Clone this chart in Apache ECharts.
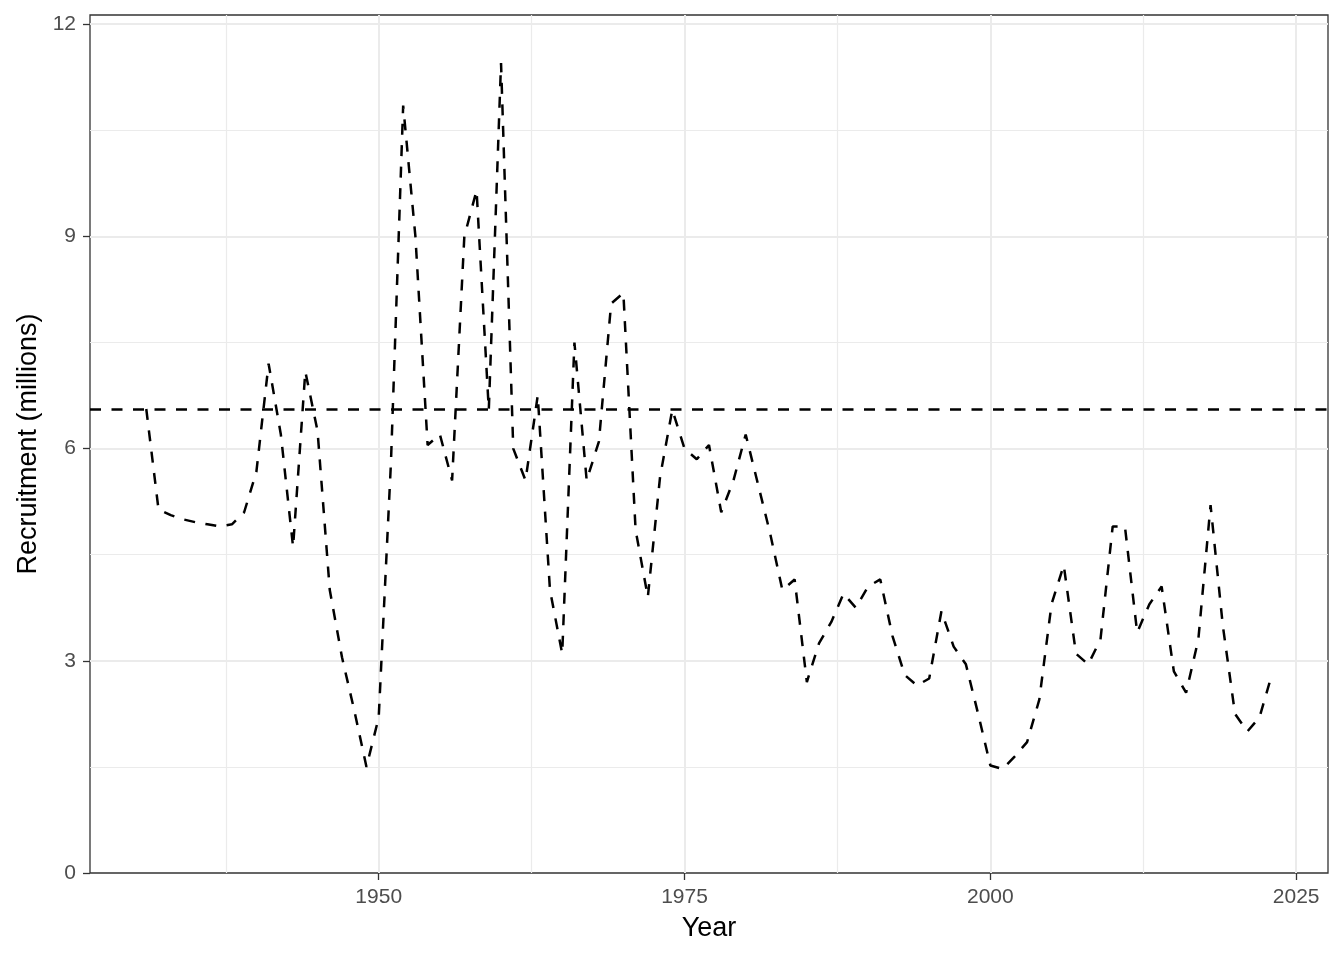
<!DOCTYPE html>
<html>
<head>
<meta charset="utf-8">
<title>Recruitment</title>
<script src="https://cdn.jsdelivr.net/npm/echarts@6.0.0/dist/echarts.min.js"></script>
<style>
  html, body { margin: 0; padding: 0; background: #ffffff; }
  #chart { width: 1344px; height: 960px; }
</style>
</head>
<body>
<div id="chart"></div>
<script>
// years of the series
var years = [
  1931, 1932, 1933, 1934, 1935, 1936, 1937, 1938, 1939, 1940,
  1941, 1942, 1943, 1944, 1945, 1946, 1947, 1948, 1949, 1950,
  1951, 1952, 1953, 1954, 1955, 1956, 1957, 1958, 1959, 1960,
  1961, 1962, 1963, 1964, 1965, 1966, 1967, 1968, 1969, 1970,
  1971, 1972, 1973, 1974, 1975, 1976, 1977, 1978, 1979, 1980,
  1981, 1982, 1983, 1984, 1985, 1986, 1987, 1988, 1989, 1990,
  1991, 1992, 1993, 1994, 1995, 1996, 1997, 1998, 1999, 2000,
  2001, 2002, 2003, 2004, 2005, 2006, 2007, 2008, 2009, 2010,
  2011, 2012, 2013, 2014, 2015, 2016, 2017, 2018, 2019, 2020,
  2021, 2022, 2023
];

// recruitment, millions
var recruitment = [
  6.56, 5.14, 5.06, 5.00, 4.96, 4.93, 4.90, 4.93, 5.10, 5.67,
  7.20, 6.20, 4.61, 7.09, 6.25, 4.00, 3.05, 2.30, 1.50, 2.20,
  5.80, 10.85, 9.00, 6.05, 6.20, 5.55, 9.00, 9.65, 6.55, 11.45,
  6.00, 5.55, 6.75, 4.00, 3.10, 7.50, 5.55, 6.10, 8.05, 8.20,
  4.85, 3.90, 5.60, 6.55, 6.00, 5.85, 6.05, 5.10, 5.55, 6.20,
  5.50, 4.80, 4.00, 4.15, 2.70, 3.25, 3.55, 3.95, 3.75, 4.05,
  4.15, 3.35, 2.80, 2.65, 2.75, 3.70, 3.20, 2.95, 2.25, 1.52,
  1.47, 1.65, 1.85, 2.45, 3.80, 4.35, 3.10, 2.95, 3.30, 4.90,
  4.90, 3.40, 3.80, 4.05, 2.85, 2.55, 3.30, 5.20, 3.50, 2.25,
  2.00, 2.20, 2.80
];

// mean recruitment (horizontal reference line)
var meanRecruitment = [6.56];

// axis ticks and grid lines
var xTicks = [1950, 1975, 2000, 2025];
var xMinor = [1937.5, 1962.5, 1987.5, 2012.5];
var yTicks = [0, 3, 6, 9, 12];
var yMinor = [1.5, 4.5, 7.5, 10.5];

var chart = echarts.init(document.getElementById('chart'));

var seriesData = years.map(function (y, i) { return [y, recruitment[i]]; });

// grid lines drawn as mark lines under the data
// (the 0 line sits on the panel border, so it is left to the border)
var gridLines = [];
xMinor.forEach(function (v) {
  gridLines.push({ xAxis: v, lineStyle: { color: '#EBEBEB', width: 1.2, type: 'solid' } });
});
yMinor.forEach(function (v) {
  gridLines.push({ yAxis: v, lineStyle: { color: '#EBEBEB', width: 1.2, type: 'solid' } });
});
xTicks.forEach(function (v) {
  gridLines.push({ xAxis: v, lineStyle: { color: '#EBEBEB', width: 2, type: 'solid' } });
});
yTicks.filter(function (v) { return v > 0; }).forEach(function (v) {
  gridLines.push({ yAxis: v, lineStyle: { color: '#EBEBEB', width: 2, type: 'solid' } });
});

var font = 'Liberation Sans, Arial, sans-serif';

var option = {
  animation: false,
  backgroundColor: '#ffffff',
  grid: {
    left: 90,
    right: 16,
    top: 15,
    bottom: 87,
    show: true,
    borderColor: '#333333',
    borderWidth: 1.3,
    backgroundColor: 'transparent'
  },
  xAxis: {
    type: 'value',
    min: 1926.4,
    max: 2027.6,
    name: 'Year',
    nameLocation: 'middle',
    nameGap: 42,
    nameTextStyle: { fontFamily: font, fontSize: 27, color: '#000000' },
    axisLine: { show: false },
    axisTick: {
      show: true,
      length: 7,
      customValues: xTicks,
      lineStyle: { color: '#333333', width: 1.3 }
    },
    axisLabel: {
      customValues: xTicks,
      margin: 14,
      fontFamily: font,
      fontSize: 21,
      color: '#4D4D4D',
      formatter: function (v) { return String(v); }
    },
    splitLine: { show: false }
  },
  yAxis: {
    type: 'value',
    min: 0,
    max: 12.13,
    name: 'Recruitment (millions)',
    nameLocation: 'middle',
    nameGap: 48,
    nameTextStyle: { fontFamily: font, fontSize: 27, color: '#000000' },
    axisLine: { show: false },
    axisTick: {
      show: true,
      length: 7,
      customValues: yTicks,
      lineStyle: { color: '#333333', width: 1.3 }
    },
    axisLabel: {
      customValues: yTicks,
      margin: 14,
      fontFamily: font,
      fontSize: 21,
      color: '#4D4D4D',
      formatter: function (v) { return String(v); }
    },
    splitLine: { show: false }
  },
  series: [
    {
      // carrier for the panel grid lines
      type: 'line',
      data: seriesData,
      showSymbol: false,
      silent: true,
      lineStyle: { opacity: 0 },
      z: 0,
      markLine: {
        z: 1,
        silent: true,
        symbol: ['none', 'none'],
        label: { show: false },
        emphasis: { disabled: true },
        data: gridLines
      }
    },
    {
      name: 'Recruitment',
      type: 'line',
      data: seriesData,
      showSymbol: false,
      z: 3,
      lineStyle: { color: '#000000', width: 2.5, type: [11, 10.5] },
      markLine: {
        z: 4,
        silent: true,
        symbol: ['none', 'none'],
        label: { show: false },
        emphasis: { disabled: true },
        lineStyle: { color: '#000000', width: 2.5, type: [11, 10.5] },
        data: meanRecruitment.map(function (v) { return { yAxis: v }; })
      }
    }
  ]
};

chart.setOption(option);
</script>
</body>
</html>
